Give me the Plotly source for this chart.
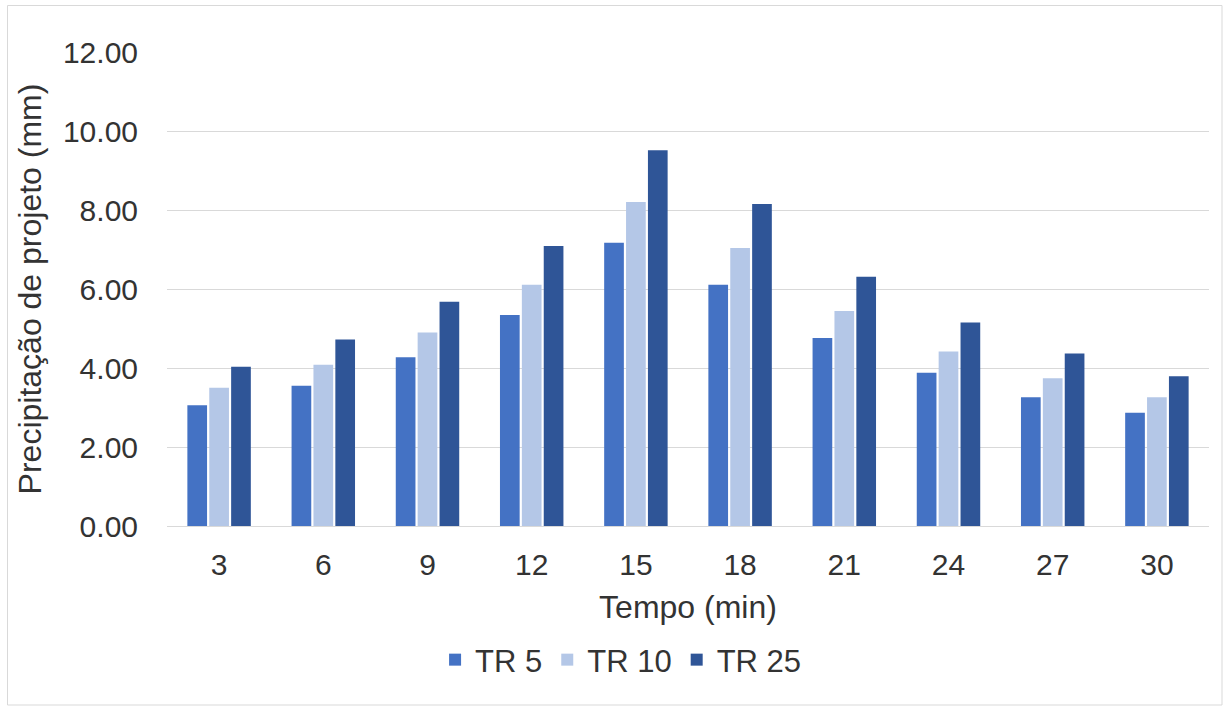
import plotly.graph_objects as go

categories = ["3", "6", "9", "12", "15", "18", "21", "24", "27", "30"]
tr5 = [3.06, 3.55, 4.27, 5.34, 7.17, 6.11, 4.76, 3.88, 3.26, 2.87]
tr10 = [3.50, 4.08, 4.90, 6.11, 8.20, 7.04, 5.44, 4.42, 3.74, 3.26]
tr25 = [4.03, 4.72, 5.68, 7.09, 9.51, 8.15, 6.31, 5.15, 4.37, 3.79]
y_ticks = [0, 2, 4, 6, 8, 10, 12]

series = [("TR 5", tr5, "#4472C4"), ("TR 10", tr10, "#B4C7E7"), ("TR 25", tr25, "#2F5597")]

fig = go.Figure()
for name, vals, color in series:
    fig.add_trace(go.Bar(x=categories, y=vals, name=name, marker=dict(color=color, line=dict(width=0))))

W, H = 1225, 708
L, R, T, B = 167, 16, 52, 182
pw, ph = W - L - R, H - T - B

def px_x(p):
    return (p - L) / pw

def px_y(p):
    return (H - B - p) / ph

font = "Liberation Sans, Arial, sans-serif"
txt = "#333333"
fs = 30
tfs = 32
fig.update_layout(
    width=W, height=H,
    margin=dict(l=L, r=R, t=T, b=B),
    paper_bgcolor="white", plot_bgcolor="white",
    barmode="group", bargap=0.37, bargroupgap=0.1,
    font=dict(family=font, size=fs, color=txt),
    showlegend=True,
    legend=dict(orientation="h", xref="container", x=0.507, xanchor="center",
                yref="container", y=(H - 660) / H, yanchor="middle",
                font=dict(size=31, color=txt), traceorder="normal"),
    xaxis=dict(type="category", showgrid=False, showline=True, linecolor="#D9D9D9", linewidth=1,
               ticks="", ticklabelstandoff=12, tickfont=dict(size=fs, color=txt),
               title=dict(text="Tempo (min)", standoff=15, font=dict(size=tfs, color=txt))),
    yaxis=dict(range=[0, 12], tickvals=y_ticks, ticktext=[f"{v:.2f}" for v in y_ticks],
               showgrid=True, gridcolor="#D9D9D9", gridwidth=1, zeroline=False, showline=False,
               ticks="", ticklabelstandoff=28, tickfont=dict(size=fs, color=txt),
               title=dict(text="Precipitação de projeto (mm)", standoff=11, font=dict(size=tfs, color=txt))),
    shapes=[dict(type="rect", xref="paper", yref="paper",
                 x0=px_x(7.5), x1=px_x(1222), y0=px_y(705), y1=px_y(5.5),
                 line=dict(color="#D9D9D9", width=1), fillcolor="rgba(0,0,0,0)", layer="below")],
)

fig.write_html("out.html", config={"displayModeBar": False},
               post_script="document.body.style.margin='0';document.body.style.padding='0';")
